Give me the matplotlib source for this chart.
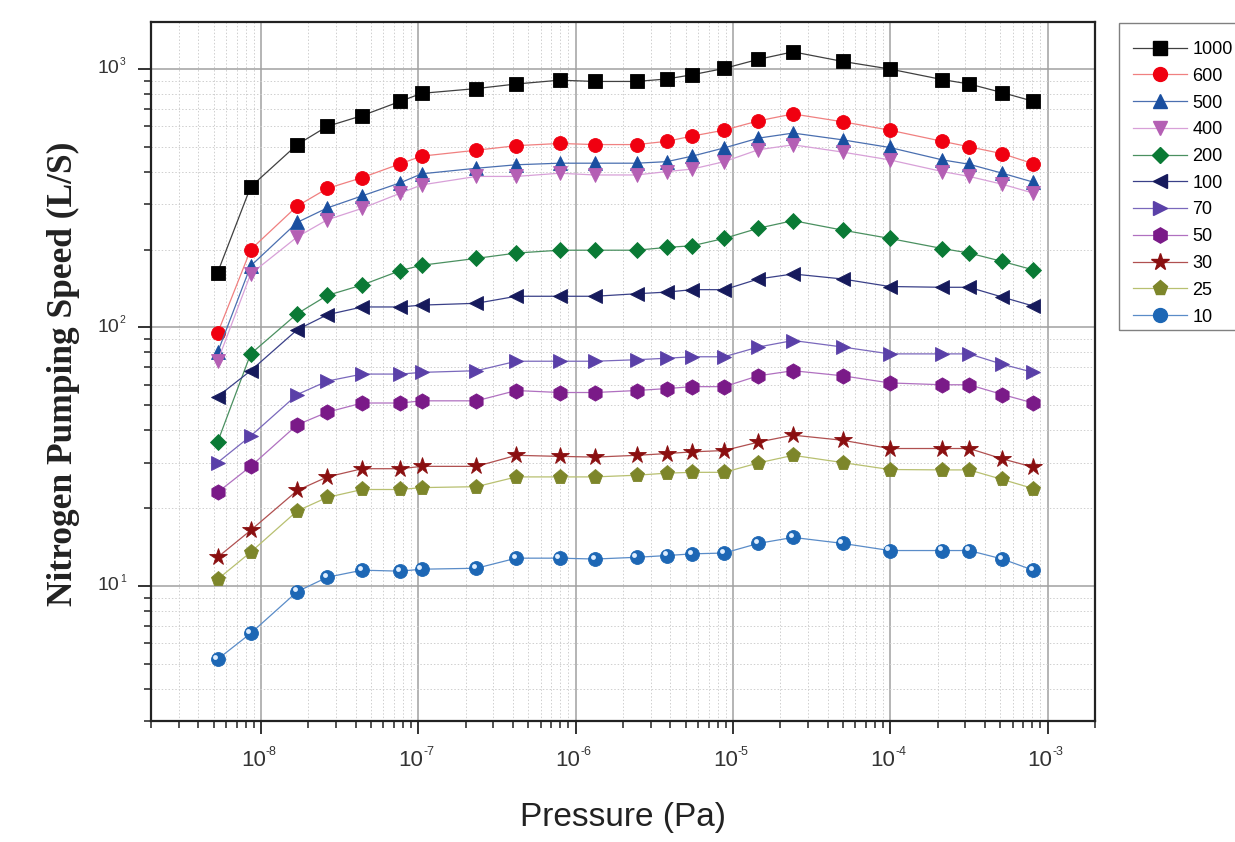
import matplotlib
matplotlib.use("Agg")
import matplotlib.pyplot as plt
import matplotlib.transforms as mtransforms
from matplotlib.patches import Rectangle
import numpy as np

plt.rcParams['font.family'] = ['Liberation Sans', 'DejaVu Sans']

# pressure points (Pa), shared by every series
pressure = [5.3e-9, 8.6e-9, 1.7e-8, 2.64e-8, 4.4e-8, 7.7e-8, 1.05e-7, 2.34e-7,
            4.2e-7, 7.9e-7, 1.33e-6, 2.44e-6, 3.8e-6, 5.5e-6, 8.8e-6, 1.45e-5,
            2.41e-5, 4.97e-5, 9.9e-5, 2.14e-4, 3.17e-4, 5.16e-4, 8.1e-4]

s1000 = [163, 350, 510, 600, 660, 750, 805, 840, 875, 905, 895, 895, 915, 950,
         1005, 1090, 1165, 1070, 1000, 910, 875, 810, 750]
s600 = [95, 200, 295, 345, 380, 430, 460, 485, 505, 515, 510, 510, 525, 550,
        580, 630, 670, 625, 580, 525, 500, 470, 430]
s500 = [80, 173, 255, 290, 323, 363, 393, 413, 426, 432, 432, 432, 438, 460,
        495, 540, 565, 532, 497, 445, 428, 395, 365]
s400 = [74, 161, 224, 261, 289, 331, 356, 384, 384, 395, 389, 389, 401, 410,
        438, 487, 509, 477, 445, 401, 384, 358, 331]
s200 = [36, 79, 113, 133, 146, 166, 174, 185, 194, 199, 199, 199, 204, 207,
        221, 242, 259, 238, 221, 202, 194, 180, 167]
s100 = [54, 68, 98, 112, 120, 120, 122, 124, 132, 132, 132, 135, 137, 140,
        140, 154, 161, 154, 144, 143, 143, 131, 121]
s70 = [30, 38, 55, 62, 66, 66, 67, 68, 74, 74, 74, 75, 76, 77,
       77, 84, 89, 84, 79, 79, 79, 72, 67]
s50 = [23, 29, 42, 47, 51, 51, 52, 52, 57, 56, 56, 57, 58, 59,
       59, 65, 68, 65, 61, 60, 60, 55, 51]
s30 = [12.9, 16.4, 23.4, 26.4, 28.4, 28.4, 29, 29, 32, 31.7, 31.5, 32, 32.5, 33,
       33.4, 36, 38.3, 36.6, 34, 34, 34, 31, 28.8]
s25 = [10.6, 13.5, 19.5, 22, 23.6, 23.6, 24, 24.2, 26.4, 26.4, 26.4, 26.8, 27.3, 27.5,
       27.5, 29.9, 32, 30, 28.2, 28.1, 28.1, 25.8, 23.8]
s10 = [5.2, 6.55, 9.5, 10.8, 11.5, 11.4, 11.6, 11.7, 12.8, 12.8, 12.7, 12.9, 13.1, 13.3,
       13.4, 14.6, 15.4, 14.6, 13.7, 13.7, 13.7, 12.7, 11.5]

labels = ['1000', '600', '500', '400', '200', '100', '70', '50', '30', '25', '10']
series = [s1000, s600, s500, s400, s200, s100, s70, s50, s30, s25, s10]

x_exps = [-8, -7, -6, -5, -4, -3]
y_exps = [1, 2, 3]

# style: marker, size, face colour, line colour
styles = [('s', 10, '#000000', '#404040'),
          ('o', 10, '#f00010', '#f08080'),
          ('^', 10.5, '#1a4fa0', '#4a6fb0'),
          ('v', 10.5, '#b45fb4', '#d8a0d8'),
          ('D', 8, '#0a7a35', '#4a9060'),
          ('<', 10.5, '#161a5c', '#3a4088'),
          ('>', 10.5, '#5a40a8', '#7a68bc'),
          ('h', 11, '#7a1a88', '#b070c0'),
          ('*', 13, '#8a0f10', '#b05050'),
          ('p', 11, '#7d862a', '#b8c070'),
          ('o', 10, '#1d67b5', '#5a8cc8')]

W, H = 1235, 842
fig = plt.figure(figsize=(W / 100, H / 100), dpi=100)
ax = fig.add_axes([151/W, 1-721/H, (1095-151)/W, (721-22)/H])

for lab, ys, (mk, ms, fc, lc) in zip(labels, series, styles):
    ax.plot(pressure, ys, color=lc, linewidth=0.9)
    ax.plot(pressure, ys, linestyle='none', marker=mk, markersize=ms,
            markerfacecolor=fc, markeredgecolor=fc, markeredgewidth=0.6)
    ax.plot([], [], color=lc, linewidth=0.9, marker=mk, markersize=ms,
            markerfacecolor=fc, markeredgecolor=fc, label=lab)

# little highlight on the blue balls
hl = mtransforms.offset_copy(ax.transData, fig=fig, x=-1.6, y=1.6, units='points')
ax.plot(pressure, s10, linestyle='none', marker='o', markersize=3.5,
        markerfacecolor='#dfeeff', markeredgecolor='none', transform=hl)

ax.set_xscale('log')
ax.set_yscale('log')
ax.set_xlim(2e-9, 2e-3)
ax.set_ylim(3, 1520)

xt = [10.0 ** e for e in x_exps]
yt = [10.0 ** e for e in y_exps]
ax.set_xticks(xt)
ax.set_yticks(yt)
ax.tick_params(labelbottom=False, labelleft=False)

# tick labels drawn by hand: "10" with a small raised exponent
for e, x in zip(x_exps, xt):
    ax.annotate('10', xy=(x, 0), xycoords=('data', 'axes fraction'),
                xytext=(-5.5, -21), textcoords='offset points',
                ha='center', va='top', fontsize=16, color='#333333')
    ax.annotate('%d' % e, xy=(x, 0), xycoords=('data', 'axes fraction'),
                xytext=(3.5, -18), textcoords='offset points',
                ha='left', va='top', fontsize=9, color='#333333')
for e, y in zip(y_exps, yt):
    ax.annotate('10', xy=(0, y), xycoords=('axes fraction', 'data'),
                xytext=(-23, 0), textcoords='offset points',
                ha='right', va='center', fontsize=14, color='#333333')
    ax.annotate('%d' % e, xy=(0, y), xycoords=('axes fraction', 'data'),
                xytext=(-22.5, 5), textcoords='offset points',
                ha='left', va='center', fontsize=7.5, color='#333333')

ax.tick_params(axis='both', which='major', direction='out', length=9.5, width=1.3,
               colors='#222222')
ax.tick_params(which='minor', direction='out', length=5, width=1.1, colors='#222222')

ax.grid(True, which='major', color='#a0a0a0', linewidth=1.1)
ax.grid(True, which='minor', color='#cfcfcf', linewidth=0.7, linestyle=(0, (1.5, 2)))
ax.set_axisbelow(True)

for sp in ax.spines.values():
    sp.set_linewidth(1.6)
    sp.set_color('#222222')

ax.set_xlabel('Pressure (Pa)', fontsize=24, color='#222222')
ax.xaxis.set_label_coords(0.5, (721 - 802) / 699)
ax.set_ylabel('Nitrogen Pumping Speed (L/S)', fontsize=25.5, fontweight='bold',
              family=['Liberation Serif', 'DejaVu Serif'], color='#222222')
ax.yaxis.set_label_coords((80 - 151) / 944, 0.497)

# legend without its own frame, box drawn separately (runs off the right edge)
leg = fig.legend(loc='upper left', bbox_to_anchor=(1133/W, 1-41/H),
                 frameon=False, fontsize=13, handlelength=3.0,
                 handletextpad=0.3, labelspacing=0.54, borderpad=0,
                 borderaxespad=0)
fig.add_artist(Rectangle((1119/W, 1-330/H), 140/W, (330-22.7)/H,
                         transform=fig.transFigure, facecolor='none',
                         edgecolor='#808080', linewidth=1.0))

fig.savefig('out.png', dpi=100)
